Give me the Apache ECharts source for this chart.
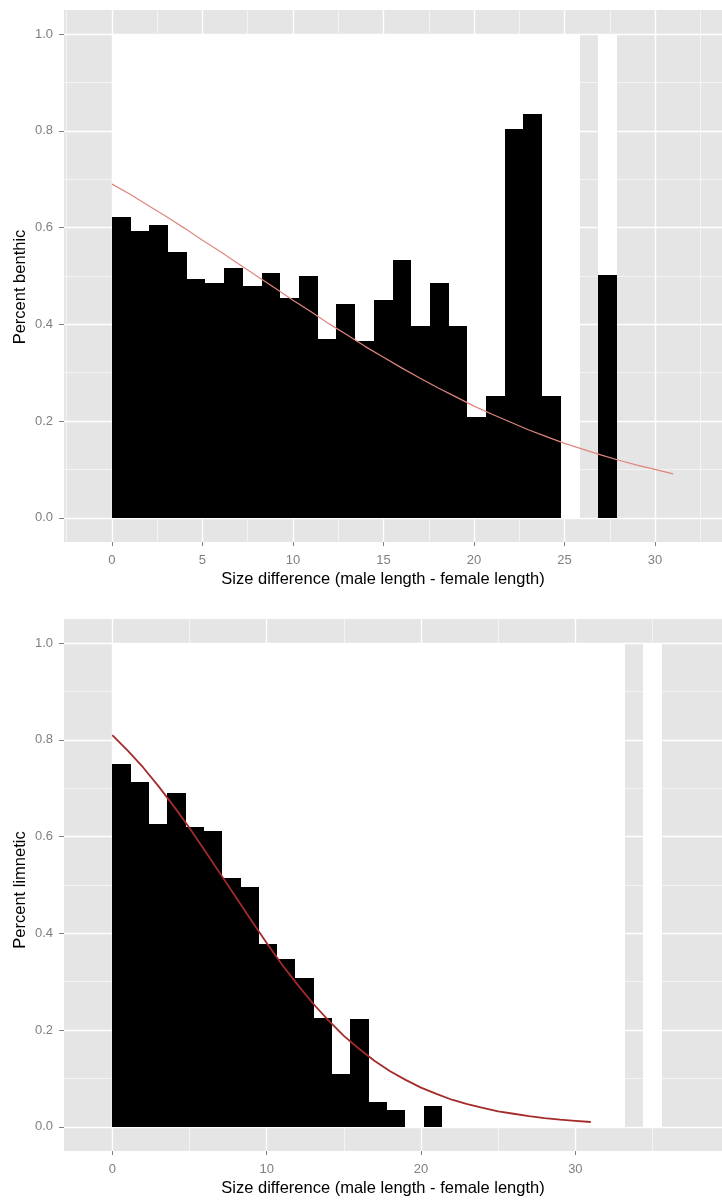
<!DOCTYPE html>
<html>
<head>
<meta charset="utf-8">
<script src="https://cdn.jsdelivr.net/npm/echarts@6/dist/echarts.min.js"></script>
<style>
  html, body { margin: 0; padding: 0; background: #fff; }
  #chart { width: 722px; height: 1201px; }
</style>
</head>
<body>
<div id="chart"></div>
<script>
// 30 bins per panel, null = no fish in that bin
const benthicBinWidth = 31 / 30
const benthicShare = [
  0.621, 0.593, 0.606, 0.549, 0.493, 0.485, 0.517, 0.479, 0.506, 0.455,
  0.501, 0.369, 0.443, 0.366, 0.450, 0.534, 0.397, 0.485, 0.397, 0.208,
  0.251, 0.803, 0.834, 0.251, 0, null, 0.502, null, null, null
]

const limneticBinWidth = 35.6 / 30
const limneticShare = [
  0.750, 0.713, 0.626, 0.690, 0.619, 0.612, 0.514, 0.496, 0.378, 0.346,
  0.308, 0.226, 0.109, 0.222, 0.052, 0.035, 0, 0.043, 0, 0,
  0, 0, 0, 0, 0, 0, 0, 0, null, 0
]

// fitted curves
const fitX = [0, 1, 2, 3, 4, 5, 6, 7, 8, 9, 10, 11, 12, 13, 14, 15,
  16, 17, 18, 19, 20, 21, 22, 23, 24, 25, 26, 27, 28, 29, 30, 31]
const benthicFit = [0.690, 0.669, 0.646, 0.623, 0.599, 0.574, 0.550, 0.525,
  0.500, 0.475, 0.450, 0.426, 0.401, 0.378, 0.354, 0.332, 0.310, 0.289,
  0.269, 0.250, 0.231, 0.214, 0.198, 0.182, 0.168, 0.154, 0.142, 0.130,
  0.119, 0.109, 0.100, 0.091]
const limneticFit = [0.810, 0.778, 0.743, 0.704, 0.662, 0.618, 0.571, 0.523,
  0.475, 0.427, 0.380, 0.335, 0.294, 0.255, 0.220, 0.188, 0.161, 0.136,
  0.115, 0.097, 0.081, 0.068, 0.056, 0.047, 0.039, 0.032, 0.027, 0.022,
  0.018, 0.015, 0.0125, 0.010]

const benthicTicks = [0, 5, 10, 15, 20, 25, 30]
const benthicMinor = [-2.5, 2.5, 7.5, 12.5, 17.5, 22.5, 27.5, 32.5]
const limneticTicks = [0, 10, 20, 30]
const limneticMinor = [5, 15, 25, 35]
const yTicks = [0, 0.2, 0.4, 0.6, 0.8, 1.0]
const yMinor = [0.1, 0.3, 0.5, 0.7, 0.9]

const xTitle = 'Size difference (male length - female length)'

const FONT = 'Liberation Sans, Arial, sans-serif'
const GREY = '#7F7F7F'

const makeBins = (share, w) => {
  const white = []
  const black = []
  share.forEach((v, i) => {
    if (v === null) return
    white.push([i * w, (i + 1) * w, 1])
    if (v > 0) black.push([i * w, (i + 1) * w, v])
  })
  return { white, black }
}

// snap to whole pixels so neighbouring bars leave no seams
const binRender = (color) => (params, api) => {
  const a = api.coord([api.value(0), api.value(2)])
  const b = api.coord([api.value(1), 0])
  const x0 = Math.round(a[0]), x1 = Math.round(b[0])
  const y0 = Math.round(a[1]), y1 = Math.round(b[1])
  return {
    type: 'rect',
    shape: { x: x0, y: y0, width: x1 - x0, height: y1 - y0 },
    style: { fill: color }
  }
}

const majorX = (gridIndex, min, max, ticks) => ({
  type: 'value', gridIndex, min, max, position: 'bottom',
  axisLine: { show: false, onZero: false },
  axisTick: { show: true, length: 4, customValues: ticks, lineStyle: { color: GREY } },
  axisLabel: { customValues: ticks, color: GREY, fontSize: 13, fontFamily: FONT, margin: 12 },
  splitLine: { show: true, lineStyle: { color: '#FFFFFF', width: 1.4 } }
})

const minorX = (gridIndex, min, max, ticks) => ({
  type: 'value', gridIndex, min, max, position: 'bottom',
  axisLine: { show: false, onZero: false },
  axisTick: { show: false, customValues: ticks },
  axisLabel: { show: false, customValues: ticks },
  splitLine: { show: true, lineStyle: { color: '#F4F4F4', width: 1 } }
})

const majorY = (gridIndex) => ({
  type: 'value', gridIndex, min: -0.05, max: 1.05, position: 'left',
  axisLine: { show: false, onZero: false },
  axisTick: { show: true, length: 5, customValues: yTicks, lineStyle: { color: GREY } },
  axisLabel: {
    customValues: yTicks, color: GREY, fontSize: 13, fontFamily: FONT, margin: 11,
    formatter: (v) => v.toFixed(1)
  },
  splitLine: { show: true, lineStyle: { color: '#FFFFFF', width: 1.4 } }
})

const minorY = (gridIndex) => ({
  type: 'value', gridIndex, min: -0.05, max: 1.05, position: 'left',
  axisLine: { show: false, onZero: false },
  axisTick: { show: false, customValues: yMinor },
  axisLabel: { show: false, customValues: yMinor },
  splitLine: { show: true, lineStyle: { color: '#F4F4F4', width: 1 } }
})

const getOption = () => {
  const top = makeBins(benthicShare, benthicBinWidth)
  const bottom = makeBins(limneticShare, limneticBinWidth)

  const barSeries = (data, color, axis) => ({
    type: 'custom',
    xAxisIndex: axis, yAxisIndex: axis,
    renderItem: binRender(color),
    encode: { x: [0, 1], y: 2 },
    data,
    silent: true
  })

  const titleText = (x, y, text, rotation) => ({
    type: 'text', x, y, rotation: rotation || 0,
    style: {
      text, fill: '#000', fontSize: 16.5, fontFamily: FONT,
      align: 'center', verticalAlign: 'middle'
    }
  })

  return {
    animation: false,
    backgroundColor: '#FFFFFF',
    grid: [
      { left: 64, top: 10, width: 671, height: 532, show: true, backgroundColor: '#E5E5E5', borderWidth: 0 },
      { left: 64, top: 619, width: 662, height: 532, show: true, backgroundColor: '#E5E5E5', borderWidth: 0 }
    ],
    xAxis: [
      majorX(0, -2.65, 33.7, benthicTicks),
      minorX(0, -2.65, 33.7, benthicMinor),
      majorX(1, -3.13, 39.5, limneticTicks),
      minorX(1, -3.13, 39.5, limneticMinor)
    ],
    yAxis: [majorY(0), minorY(0), majorY(1), minorY(1)],
    graphic: [
      titleText(383, 579, xTitle),
      titleText(383, 1188, xTitle),
      titleText(20, 287, 'Percent benthic', Math.PI / 2),
      titleText(20, 890, 'Percent limnetic', Math.PI / 2)
    ],
    series: [
      barSeries(top.white, '#FFFFFF', 0),
      barSeries(top.black, '#000000', 0),
      {
        type: 'line', xAxisIndex: 0, yAxisIndex: 0,
        data: fitX.map((x, i) => [x, benthicFit[i]]),
        showSymbol: false, symbol: 'none', silent: true,
        lineStyle: { color: '#E0867E', width: 1.2 }
      },
      barSeries(bottom.white, '#FFFFFF', 2),
      barSeries(bottom.black, '#000000', 2),
      {
        type: 'line', xAxisIndex: 2, yAxisIndex: 2,
        data: fitX.map((x, i) => [x, limneticFit[i]]),
        showSymbol: false, symbol: 'none', silent: true,
        lineStyle: { color: '#A52A2A', width: 1.8 }
      }
    ]
  }
}

window.addEventListener('load', () => {
  const chart = echarts.init(document.getElementById('chart'), null, { renderer: 'canvas' })
  chart.setOption(getOption())
})
</script>
</body>
</html>
